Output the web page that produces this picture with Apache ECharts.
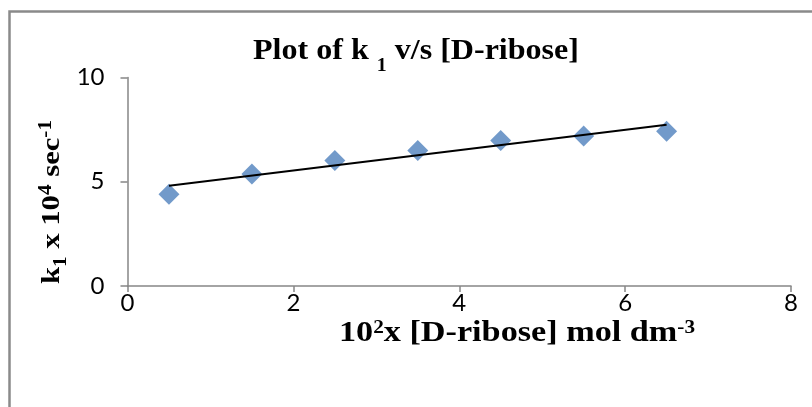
<!DOCTYPE html>
<html>
<head>
<meta charset="utf-8">
<script src="https://cdn.jsdelivr.net/npm/echarts@6/dist/echarts.min.js"></script>
<style>
  html, body { margin: 0; padding: 0; background: #ffffff; }
  #chart { width: 812px; height: 407px; }
</style>
</head>
<body>
<div id="chart"></div>
<script>
// [D-ribose] (x 10^2 mol dm^-3) and the measured rate constant k1 (x 10^4 s^-1)
const riboseConc = [0.5, 1.5, 2.5, 3.5, 4.5, 5.5, 6.5];
const k1Values = [4.40, 5.37, 6.02, 6.50, 6.98, 7.20, 7.42];
const xTicks = [0, 2, 4, 6, 8];
const yTicks = [0, 5, 10];

// Least-squares straight line through the measured points
function linearFit(xs, ys) {
  const n = xs.length;
  const mx = xs.reduce((a, b) => a + b, 0) / n;
  const my = ys.reduce((a, b) => a + b, 0) / n;
  let sxy = 0, sxx = 0;
  for (let i = 0; i < n; i++) {
    sxy += (xs[i] - mx) * (ys[i] - my);
    sxx += (xs[i] - mx) * (xs[i] - mx);
  }
  const slope = sxy / sxx;
  return x => my + slope * (x - mx);
}
const fit = linearFit(riboseConc, k1Values);
const xFirst = Math.min(...riboseConc);
const xLast = Math.max(...riboseConc);
const trendLine = [[xFirst, fit(xFirst)], [xLast, fit(xLast)]];

const pointData = riboseConc.map((x, i) => [x, k1Values[i]]);

const SERIF = '"Liberation Serif", "Times New Roman", serif';
const AXIS_GREY = '#868686';

// Builds a bold serif label with sub/superscripts as a graphic group.
// The group origin is the centre of the main baseline; the run is
// stretched along its reading direction to span `span` pixels.
const measureCtx = document.createElement('canvas').getContext('2d');
function scriptLabel(parts, opt) {
  let x = 0;
  const children = [];
  parts.forEach(([txt, kind]) => {
    const fs = kind === 'm' ? opt.size : opt.small;
    measureCtx.font = 'bold ' + fs + 'px ' + SERIF;
    const w = measureCtx.measureText(txt).width;
    const shift = kind === 'sub' ? opt.drop : (kind === 'sup' ? -opt.rise : 0);
    children.push({
      type: 'text', silent: true, x: x, y: shift - fs * 0.32,
      style: {
        text: txt, fill: '#000', fontSize: fs, fontWeight: 'bold',
        fontFamily: SERIF, align: 'left', verticalAlign: 'middle'
      }
    });
    x += w;
  });
  children.forEach(c => { c.x -= x / 2; });
  return {
    type: 'group', silent: true,
    x: opt.x, y: opt.y, rotation: opt.rotation || 0,
    scaleX: opt.span / x,
    children: children
  };
}

const chart = echarts.init(document.getElementById('chart'), null, { renderer: 'canvas' });

chart.setOption({
  backgroundColor: '#ffffff',
  animation: false,
  grid: { left: 127.5, right: 21, top: 77.5, bottom: 121, containLabel: false },
  xAxis: {
    type: 'value',
    min: xTicks[0], max: xTicks[xTicks.length - 1], interval: 2,
    axisLine: { show: true, lineStyle: { color: AXIS_GREY, width: 1.5 } },
    axisTick: { show: true, inside: false, length: 6, lineStyle: { color: AXIS_GREY, width: 1.5 } },
    axisLabel: {
      show: true, margin: 5, color: '#000',
      fontFamily: 'Lato', fontSize: 24,
      formatter: v => xTicks.includes(v) ? String(v) : ''
    },
    splitLine: { show: false }
  },
  yAxis: {
    type: 'value',
    min: yTicks[0], max: yTicks[yTicks.length - 1], interval: 5,
    axisLine: { show: true, lineStyle: { color: AXIS_GREY, width: 1.5 } },
    axisTick: { show: true, inside: false, length: 7, lineStyle: { color: AXIS_GREY, width: 1.5 } },
    axisLabel: {
      show: true, margin: 23, color: '#000',
      fontFamily: 'Lato', fontSize: 24,
      formatter: v => yTicks.includes(v) ? String(v) : ''
    },
    splitLine: { show: false }
  },
  graphic: [
    {
      type: 'rect', silent: true, z: -1,
      shape: { x: 9.5, y: 11.5, width: 900, height: 500 },
      style: { fill: 'none', stroke: '#8a8a8a', lineWidth: 2.5 }
    },
    scriptLabel(
      [['Plot of k ', 'm'], ['1', 'sub'], [' v/s [D-ribose]', 'm']],
      { x: 416, y: 61, span: 326, size: 29, small: 18, drop: 11, rise: 0 }
    ),
    scriptLabel(
      [['10', 'm'], ['2', 'sup'], ['x [D-ribose] mol dm', 'm'], ['-3', 'sup']],
      { x: 517, y: 343, span: 356, size: 29, small: 18, drop: 0, rise: 9 }
    ),
    scriptLabel(
      [['k', 'm'], ['1', 'sub'], [' x 10', 'm'], ['4', 'sup'], [' sec', 'm'], ['-1', 'sup']],
      { x: 61, y: 202, rotation: Math.PI / 2, span: 164, size: 26, small: 18, drop: 6, rise: 9 }
    )
  ],
  series: [
    {
      name: 'k1',
      type: 'scatter',
      data: pointData,
      symbol: 'diamond',
      symbolSize: 21,
      itemStyle: { color: '#4F81BD' },
      z: 2
    },
    {
      name: 'Linear fit',
      type: 'line',
      data: trendLine,
      symbol: 'none',
      lineStyle: { color: '#000000', width: 2 },
      z: 3
    }
  ]
});
</script>
</body>
</html>
